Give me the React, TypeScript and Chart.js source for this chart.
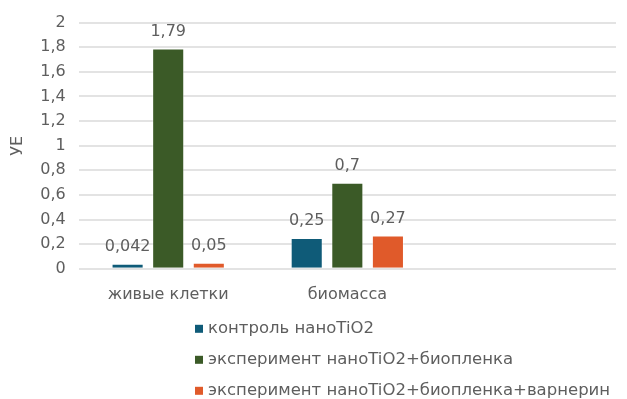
import React, { useEffect, useRef } from "react";
import { Chart, registerables } from "chart.js";

Chart.register(...registerables);

const categories = ["живые клетки", "биомасса", ""];
const seriesNames = [
  "контроль наноTiO2",
  "эксперимент наноTiO2+биопленка",
  "эксперимент наноTiO2+биопленка+варнерин",
];
const controlValues = [0.042, 0.25, null];
const biofilmValues = [1.79, 0.7, null];
const varnerinValues = [0.05, 0.27, null];
const seriesColors = ["#0F5B78", "#3B5A27", "#E05A2A"];
const yTitle = "УЕ";

const FONT = "'DejaVu Sans', Verdana, sans-serif";
const TEXT = "#5E5E5E";
const FS = 16;

const fmt = (v: number) => String(v).replace(".", ",");

const valueLabels = {
  id: "valueLabels",
  afterDatasetsDraw(chart: any) {
    const ctx = chart.ctx;
    ctx.save();
    ctx.font = `${FS}px ${FONT}`;
    ctx.fillStyle = TEXT;
    ctx.textAlign = "center";
    ctx.textBaseline = "middle";
    chart.data.datasets.forEach((ds: any, i: number) => {
      const meta = chart.getDatasetMeta(i);
      meta.data.forEach((el: any, j: number) => {
        const v = ds.data[j];
        if (v == null) return;
        ctx.fillText(fmt(v), el.x, el.y - 17);
      });
    });
    ctx.restore();
  },
};

const stackedLegend = {
  id: "stackedLegend",
  afterDraw(chart: any) {
    const ctx = chart.ctx;
    const base = chart.chartArea.bottom;
    ctx.save();
    ctx.font = `16.5px ${FONT}`;
    ctx.textBaseline = "middle";
    ctx.textAlign = "left";
    chart.data.datasets.forEach((ds: any, i: number) => {
      const y = base + 60 + i * 31;
      ctx.fillStyle = ds.backgroundColor;
      ctx.fillRect(195, y - 4, 8, 8);
      ctx.fillStyle = TEXT;
      ctx.fillText(ds.label, 208, y);
    });
    ctx.restore();
  },
};

export default function App() {
  const ref = useRef<HTMLCanvasElement>(null);
  useEffect(() => {
    document.body.style.margin = "0";
    const mk = (i: number, data: any[]) => ({
      label: seriesNames[i],
      data,
      backgroundColor: seriesColors[i],
      borderColor: "rgba(255,255,255,0.35)",
      borderWidth: 1,
      categoryPercentage: 0.68,
      barPercentage: 0.79,
    });
    const chart = new Chart(ref.current!, {
      type: "bar",
      data: {
        labels: categories,
        datasets: [mk(0, controlValues), mk(1, biofilmValues), mk(2, varnerinValues)],
      },
      options: {
        animation: false,
        responsive: false,
        layout: { padding: { top: 7, right: 11, bottom: 79, left: 4 } },
        plugins: {
          legend: { display: false },
          tooltip: { enabled: false },
        },
        scales: {
          x: {
            grid: { display: false, drawTicks: false },
            border: { display: false },
            ticks: { color: TEXT, font: { family: FONT, size: FS }, padding: 16 },
          },
          y: {
            min: 0,
            max: 2,
            ticks: {
              stepSize: 0.2,
              color: TEXT,
              font: { family: FONT, size: FS },
              padding: 13,
              callback: (v: any) => fmt(Math.round(Number(v) * 10) / 10),
            },
            grid: { color: "#E3E3E3", lineWidth: 2, drawTicks: false },
            border: { display: false },
            title: {
              display: true,
              text: yTitle,
              color: TEXT,
              font: { family: FONT, size: 16 },
              padding: { top: 4, bottom: 0 },
            },
          },
        },
      },
      plugins: [valueLabels, stackedLegend],
    });
    return () => chart.destroy();
  }, []);
  return <canvas ref={ref} width={627} height={399} style={{ display: "block" }} />;
}
